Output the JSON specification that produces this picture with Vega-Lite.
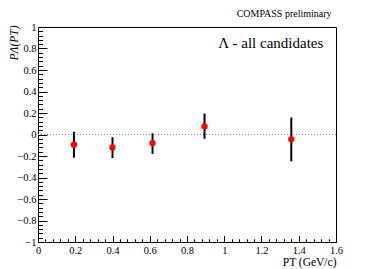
{
  "$schema": "https://vega.github.io/schema/vega-lite/v6.json",
  "width": 298,
  "height": 215,
  "autosize": "none",
  "padding": {"left": 38, "top": 27, "right": 38, "bottom": 27},
  "background": "white",
  "title": {"text": "COMPASS preliminary", "anchor": "end", "dx": -11, "offset": 3, "fontSize": 10, "font": "Liberation Serif", "fontWeight": "normal", "color": "black"},
  "data": {"values": [
    {"pt": 0.193, "p": -0.095, "lo": -0.215, "hi": 0.025},
    {"pt": 0.40, "p": -0.12, "lo": -0.22, "hi": -0.025},
    {"pt": 0.615, "p": -0.08, "lo": -0.18, "hi": 0.012},
    {"pt": 0.894, "p": 0.075, "lo": -0.04, "hi": 0.195},
    {"pt": 1.36, "p": -0.045, "lo": -0.25, "hi": 0.158}
  ]},
  "layer": [
    {
      "data": {"values": [{"z": 0}]},
      "mark": {"type": "rule", "color": "#7f7fc8", "strokeDash": [1, 2], "strokeWidth": 1},
      "encoding": {
        "x": {"datum": 0, "type": "quantitative", "scale": {"domain": [0, 1.6], "nice": false, "zero": false}, "axis": null},
        "x2": {"datum": 1.6},
        "y": {"field": "z", "type": "quantitative", "scale": {"domain": [-1, 1], "nice": false, "zero": false}, "axis": null}
      }
    },
    {
      "mark": {"type": "rule", "color": "black", "strokeWidth": 2},
      "encoding": {
        "x": {"field": "pt", "type": "quantitative", "scale": {"domain": [0, 1.6], "nice": false, "zero": false},
          "axis": {
            "title": "PT (GeV/c)", "titleFont": "Liberation Serif", "titleFontSize": 11.5, "titleFontWeight": "normal", "titleColor": "black",
            "titleX": 298, "titleY": 20, "titleAlign": "right", "titleBaseline": "middle",
            "values": [0,0.2,0.4,0.6,0.8,1,1.2,1.4,1.6], "format": ".1~f",
            "labelFont": "Liberation Serif", "labelFontSize": 10.5,
            "ticks": false, "labelPadding": 3, "labelOverlap": false, "labelFlush": false
          }},
        "y": {"field": "lo", "type": "quantitative", "scale": {"domain": [-1, 1], "nice": false, "zero": false},
          "axis": {
            "title": "PΛ(PT)", "titleFont": "Liberation Serif", "titleFontSize": 11.5, "titleFontWeight": "normal", "titleFontStyle": "italic", "titleColor": "black",
            "titleX": -24, "titleY": -2, "titleAlign": "right", "titleBaseline": "middle", "titleAngle": -90,
            "values": [-1,-0.8,-0.6,-0.4,-0.2,0,0.2,0.4,0.6,0.8,1], "format": ".1~f",
            "labelFont": "Liberation Serif", "labelFontSize": 10.5,
            "ticks": false, "labelPadding": 2, "labelOverlap": false, "labelFlush": false
          }},
        "y2": {"field": "hi"}
      }
    },
    {
      "mark": {"type": "circle", "color": "#ff0000", "opacity": 1, "size": 40},
      "encoding": {
        "x": {"field": "pt", "type": "quantitative", "scale": {"domain": [0, 1.6], "nice": false, "zero": false},
          "axis": {
            "orient": "top", "offset": -215, "title": null, "labels": false, "domain": false,
            "values": [0,0.04,0.08,0.12,0.16,0.2,0.24,0.28,0.32,0.36,0.4,0.44,0.48,0.52,0.56,0.6,0.64,0.68,0.72,0.76,0.8,0.84,0.88,0.92,0.96,1,1.04,1.08,1.12,1.16,1.2,1.24,1.28,1.32,1.36,1.4,1.44,1.48,1.52,1.56,1.6],
            "tickSize": {"condition": {"test": "abs(datum.value*5 - round(datum.value*5)) < 0.01", "value": 6.5}, "value": 3.2}
          }},
        "y": {"field": "p", "type": "quantitative", "scale": {"domain": [-1, 1], "nice": false, "zero": false},
          "axis": {
            "orient": "right", "offset": -298, "title": null, "labels": false, "domain": false,
            "values": [-1,-0.96,-0.92,-0.88,-0.84,-0.8,-0.76,-0.72,-0.68,-0.64,-0.6,-0.56,-0.52,-0.48,-0.44,-0.4,-0.36,-0.32,-0.28,-0.24,-0.2,-0.16,-0.12,-0.08,-0.04,0,0.04,0.08,0.12,0.16,0.2,0.24,0.28,0.32,0.36,0.4,0.44,0.48,0.52,0.56,0.6,0.64,0.68,0.72,0.76,0.8,0.84,0.88,0.92,0.96,1],
            "tickSize": {"condition": {"test": "abs(datum.value*5 - round(datum.value*5)) < 0.01", "value": 9}, "value": 4.5}
          }}
      }
    },
    {
      "data": {"values": [{"label": "Λ - all candidates"}]},
      "mark": {"type": "text", "font": "Liberation Serif", "fontSize": 15, "fontWeight": "normal", "align": "right", "baseline": "middle", "color": "black"},
      "encoding": {
        "x": {"datum": 1.532, "type": "quantitative", "scale": {"domain": [0, 1.6], "nice": false, "zero": false}, "axis": null},
        "y": {"datum": 0.85, "type": "quantitative", "scale": {"domain": [-1, 1], "nice": false, "zero": false}, "axis": null},
        "text": {"field": "label", "type": "nominal"}
      }
    }
  ],
  "resolve": {"axis": {"x": "independent", "y": "independent"}},
  "config": {
    "view": {"stroke": "black", "strokeWidth": 1},
    "axis": {"grid": false, "domainColor": "black", "tickColor": "black", "labelColor": "black", "labelFont": "Liberation Serif", "labelFontSize": 10, "tickWidth": 1, "domainWidth": 1}
  }
}
